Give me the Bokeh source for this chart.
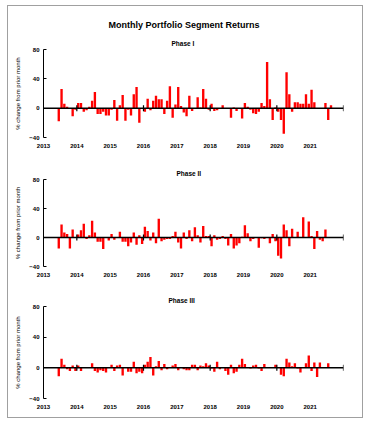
import math
from bokeh.plotting import figure
from bokeh.models import Range1d, FixedTicker, Span, Title, ColumnDataSource
from bokeh.layouts import column
from bokeh.embed import file_html
from bokeh.resources import INLINE

# ---------------- data ----------------
main_title = "Monthly Portfolio Segment Returns"
panel_titles = ["Phase I", "Phase II", "Phase III"]
y_label = "% change from prior month"
start_year, start_month = 2013, 6
year_labels = [2013, 2014, 2015, 2016, 2017, 2018, 2019, 2020, 2021]
cross_ticks = [2014, 2016, 2018, 2020, 2022]
y_ticks = [-40, 0, 40, 80]

phase1 = [-18, 26, 6, 2, -1, -11, -2, 7, 7, -5, -3, 2, 10, 22, -8, -8, -5, -10, -10, -2,
          11, -17, 4, 18, -17, -2, -10, 19, 29, -20, 0, -5, 13, -3, 10, 17, 12, 12, -8, 10,
          30, -13, 5, 29, 3, -6, -11, 17, -4, 0, 15, 1, 26, 13, -2, 6, -4, -3, -1, 4,
          0, 0, -13, 1, -4, 0, -14, 7, 2, -2, -7, -8, -5, 7, 3, 63, 12, -16, 1, -5,
          -16, -35, 49, 19, -5, 8, 8, 6, 6, 19, 6, 25, 8, 0, 0, 0, 7, -16, 4]

phase2 = [-15, 18, 7, 5, -15, 11, 0, 4, 10, 19, -2, 3, 23, 7, -6, -6, -16, 0, -4, 5,
          -3, 0, 8, -6, -6, -12, -7, 7, -10, 3, -9, 15, 9, -4, 7, -8, 26, -5, -3, -2,
          -2, 2, 8, -7, -15, 7, -2, 10, -5, 14, 3, -7, 16, 2, 2, -12, 3, -3, -2, 2,
          -2, -11, 5, -15, -11, -8, 1, 17, 6, -5, -2, 0, -14, -1, -2, 0, -8, 5, -5, -25,
          -29, 18, 10, -12, 12, 0, 8, 0, 28, 0, 22, 2, -16, 9, -3, -5, 11]

phase3 = [-11, 12, 4, -2, -4, 3, -4, 3, -4, 1, 1, 1, 6, -4, -6, -3, -4, -6, 0, 4,
          -4, 3, 4, -10, 0, -5, -5, 8, -7, -5, -7, 4, 8, 14, -10, 2, 9, -3, 5, -2,
          0, 3, 5, -3, 0, -2, -3, -3, 4, 4, -3, 3, 2, 6, 3, -1, -5, 8, -2, 1,
          -4, -9, 4, -7, -5, 4, 12, 5, 1, -1, 3, 4, -1, -4, 5, 0, 0, 1, 4, 0,
          -9, -11, 12, 7, 2, 6, -1, -6, 0, 6, 16, -4, 7, -12, 7, 1, 0, 6]

FONT = "Liberation Sans"


def month_positions(n):
    xs = []
    for i in range(n):
        m = start_month - 1 + i
        y = start_year + m // 12
        mo = m % 12
        xs.append(y + (mo + 0.5) / 12.0)
    return xs


def style_title(t, size):
    t.align = "left"
    t.text_font = FONT
    t.text_font_style = "bold"
    t.text_font_size = size
    t.text_color = "black"


def make_panel(values, ptitle, height, left, right, top, bottom,
               t_off, t_stand, outer_title=None):
    p = figure(width=354, height=height, output_backend="svg", toolbar_location=None,
               x_range=Range1d(2013, 2022), y_range=Range1d(-40, 80),
               min_border_left=left, min_border_right=right,
               min_border_top=top, min_border_bottom=bottom,
               background_fill_color="white", border_fill_color="white")
    p.outline_line_color = None
    p.grid.grid_line_color = None

    if outer_title is None:
        p.title.text = ptitle
        style_title(p.title, "6.5px")
        p.title.offset = t_off
        p.title.standoff = t_stand
    else:
        t, off, stand = outer_title
        p.title.text = t
        style_title(p.title, "9px")
        p.title.offset = off
        p.title.standoff = stand
        inner = Title(text=ptitle, offset=t_off, standoff=t_stand)
        style_title(inner, "6.5px")
        p.add_layout(inner, "above")

    src = ColumnDataSource(dict(x=month_positions(len(values)), top=values))
    p.vbar(x="x", top="top", width=0.85 / 12, source=src,
           fill_color="#ff0000", line_color=None)

    p.add_layout(Span(location=0, dimension="width", line_color="black", line_width=1.5))
    p.scatter(x=cross_ticks, y=[0] * len(cross_ticks), marker="dash", angle=math.pi / 2,
              size=6, line_color="black", line_width=1.2)

    # y axis
    yax = p.yaxis[0]
    yax.ticker = FixedTicker(ticks=y_ticks)
    yax.major_tick_in = 3
    yax.major_tick_out = 0
    yax.minor_tick_line_color = None
    yax.axis_line_color = "black"
    yax.major_tick_line_color = "black"
    yax.major_label_text_font = FONT
    yax.major_label_text_font_style = "bold"
    yax.major_label_text_font_size = "6px"
    yax.major_label_text_color = "black"
    yax.major_label_standoff = 4
    yax.axis_label = y_label
    yax.axis_label_text_font = FONT
    yax.axis_label_text_font_style = "normal"
    yax.axis_label_text_font_size = "6px"
    yax.axis_label_text_color = "black"
    yax.axis_label_standoff = 5

    # x axis (labels only; the line is drawn at zero)
    xax = p.xaxis[0]
    xax.ticker = FixedTicker(ticks=year_labels)
    xax.axis_line_color = None
    xax.major_tick_line_color = None
    xax.minor_tick_line_color = None
    xax.major_tick_in = 0
    xax.major_tick_out = 0
    xax.major_label_text_font = FONT
    xax.major_label_text_font_style = "bold"
    xax.major_label_text_font_size = "6px"
    xax.major_label_text_color = "black"
    xax.major_label_standoff = 6
    return p


p1 = make_panel(phase1, panel_titles[0], 154, 35, 19, 43, 23, 128, 6,
                outer_title=(main_title, 65, 9))
p2 = make_panel(phase2, panel_titles[1], 125, 31, 17, 19, 19, 133, 6)
p3 = make_panel(phase3, panel_titles[2], 132, 35, 17, 21, 19, 125, 5)

layout = column(p1, p2, p3, spacing=0,
                styles={"margin": "6px 0 0 8px", "outline": "1px solid #a0a0a0"})

open("out.html", "w").write(file_html(layout, INLINE))
